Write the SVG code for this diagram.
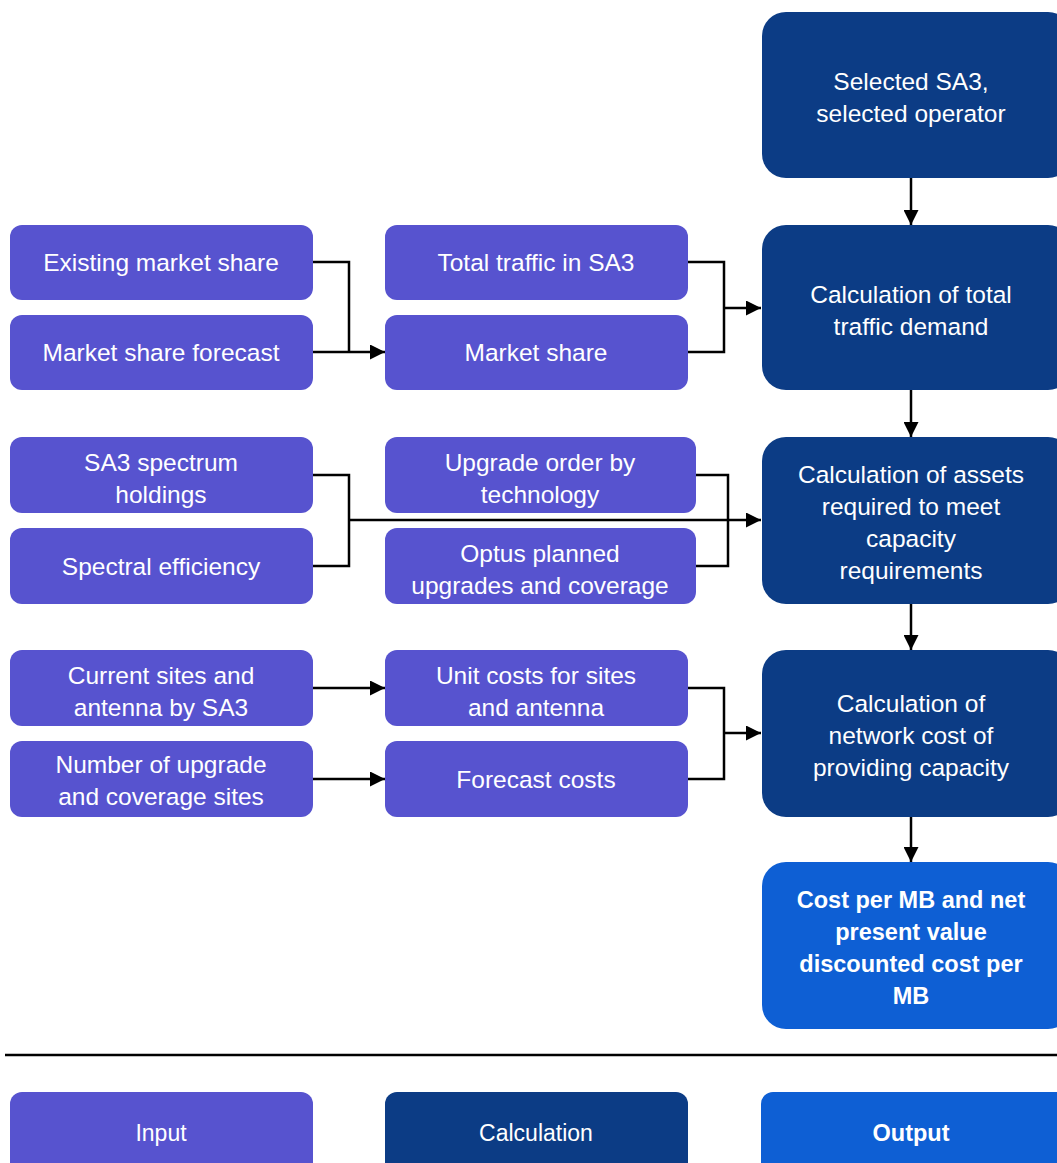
<svg xmlns="http://www.w3.org/2000/svg" width="1057" height="1163" viewBox="0 0 1057 1163">
<style>
.in{fill:#5753CF}
.calc{fill:#0C3C85}
.out{fill:#0E5FD4}
text{font-family:"Liberation Sans",Arial,sans-serif;font-size:24.5px;fill:#fff;text-anchor:middle}
.b{font-weight:bold;font-size:23.5px}
.l{font-size:23px}
.c{fill:none;stroke:#000;stroke-width:2.5}
</style>
<defs>
<marker id="ah" viewBox="0 0 10 10" refX="10" refY="5" markerWidth="6" markerHeight="6" markerUnits="strokeWidth" orient="auto">
<path d="M0,0 L10,5 L0,10 z" fill="#000"/>
</marker>
</defs>
<rect width="1057" height="1163" fill="#fff"/>

<g id="n-selected"><rect class="calc" x="762" y="12" width="310" height="166" rx="24"/><text x="911" y="90">Selected SA3,</text><text x="911" y="122">selected operator</text></g>

<g id="n-existing"><rect class="in" x="10" y="225" width="303" height="75" rx="12"/><text x="161" y="271">Existing market share</text></g>
<g id="n-forecast"><rect class="in" x="10" y="315" width="303" height="75" rx="12"/><text x="161" y="361">Market share forecast</text></g>
<g id="n-total"><rect class="in" x="385" y="225" width="303" height="75" rx="12"/><text x="536" y="271">Total traffic in SA3</text></g>
<g id="n-share"><rect class="in" x="385" y="315" width="303" height="75" rx="12"/><text x="536" y="361">Market share</text></g>
<g id="n-demand"><rect class="calc" x="762" y="225" width="310" height="165" rx="24"/><text x="911" y="303">Calculation of total</text><text x="911" y="335">traffic demand</text></g>

<g id="n-spectrum"><rect class="in" x="10" y="437" width="303" height="76" rx="12"/><text x="161" y="471">SA3 spectrum</text><text x="161" y="503">holdings</text></g>
<g id="n-efficiency"><rect class="in" x="10" y="528" width="303" height="76" rx="12"/><text x="161" y="575">Spectral efficiency</text></g>
<g id="n-upgrade"><rect class="in" x="385" y="437" width="311" height="76" rx="12"/><text x="540" y="471">Upgrade order by</text><text x="540" y="503">technology</text></g>
<g id="n-optus"><rect class="in" x="385" y="528" width="311" height="76" rx="12"/><text x="540" y="562">Optus planned</text><text x="540" y="594">upgrades and coverage</text></g>
<g id="n-assets"><rect class="calc" x="762" y="437" width="310" height="167" rx="24"/><text x="911" y="483">Calculation of assets</text><text x="911" y="515">required to meet</text><text x="911" y="547">capacity</text><text x="911" y="579">requirements</text></g>

<g id="n-sites"><rect class="in" x="10" y="650" width="303" height="76" rx="12"/><text x="161" y="684">Current sites and</text><text x="161" y="716">antenna by SA3</text></g>
<g id="n-number"><rect class="in" x="10" y="741" width="303" height="76" rx="12"/><text x="161" y="773">Number of upgrade</text><text x="161" y="805">and coverage sites</text></g>
<g id="n-unit"><rect class="in" x="385" y="650" width="303" height="76" rx="12"/><text x="536" y="684">Unit costs for sites</text><text x="536" y="716">and antenna</text></g>
<g id="n-costs"><rect class="in" x="385" y="741" width="303" height="76" rx="12"/><text x="536" y="788">Forecast costs</text></g>
<g id="n-network"><rect class="calc" x="762" y="650" width="310" height="167" rx="24"/><text x="911" y="712">Calculation of</text><text x="911" y="744">network cost of</text><text x="911" y="776">providing capacity</text></g>

<g id="n-output"><rect class="out" x="762" y="862" width="310" height="167" rx="24"/><text class="b" x="911" y="908">Cost per MB and net</text><text class="b" x="911" y="940">present value</text><text class="b" x="911" y="972">discounted cost per</text><text class="b" x="911" y="1004">MB</text></g>

<g id="connectors">
<path class="c" d="M313,262 H349 V352"/>
<path class="c" d="M313,352 H385" marker-end="url(#ah)"/>
<path class="c" d="M688,262 H724 V352 H688"/>
<path class="c" d="M724,308 H761" marker-end="url(#ah)"/>
<path class="c" d="M313,475 H349 V566 H313"/>
<path class="c" d="M349,520 H761" marker-end="url(#ah)"/>
<path class="c" d="M696,475 H728 V566 H696"/>
<path class="c" d="M313,688 H385" marker-end="url(#ah)"/>
<path class="c" d="M313,779 H385" marker-end="url(#ah)"/>
<path class="c" d="M688,688 H724 V779 H688"/>
<path class="c" d="M724,733 H761" marker-end="url(#ah)"/>
<path class="c" d="M911,178 V225" marker-end="url(#ah)"/>
<path class="c" d="M911,390 V437" marker-end="url(#ah)"/>
<path class="c" d="M911,604 V650" marker-end="url(#ah)"/>
<path class="c" d="M911,817 V862" marker-end="url(#ah)"/>
</g>

<line x1="5" y1="1055" x2="1057" y2="1055" stroke="#000" stroke-width="2.5"/>
<g id="legend-input"><rect class="in" x="10" y="1092" width="303" height="90" rx="12"/><text class="l" x="161" y="1141">Input</text></g>
<g id="legend-calc"><rect class="calc" x="385" y="1092" width="303" height="90" rx="12"/><text class="l" x="536" y="1141">Calculation</text></g>
<g id="legend-output"><rect class="out" x="761" y="1092" width="310" height="90" rx="12"/><text class="b" x="911" y="1141">Output</text></g>
</svg>
